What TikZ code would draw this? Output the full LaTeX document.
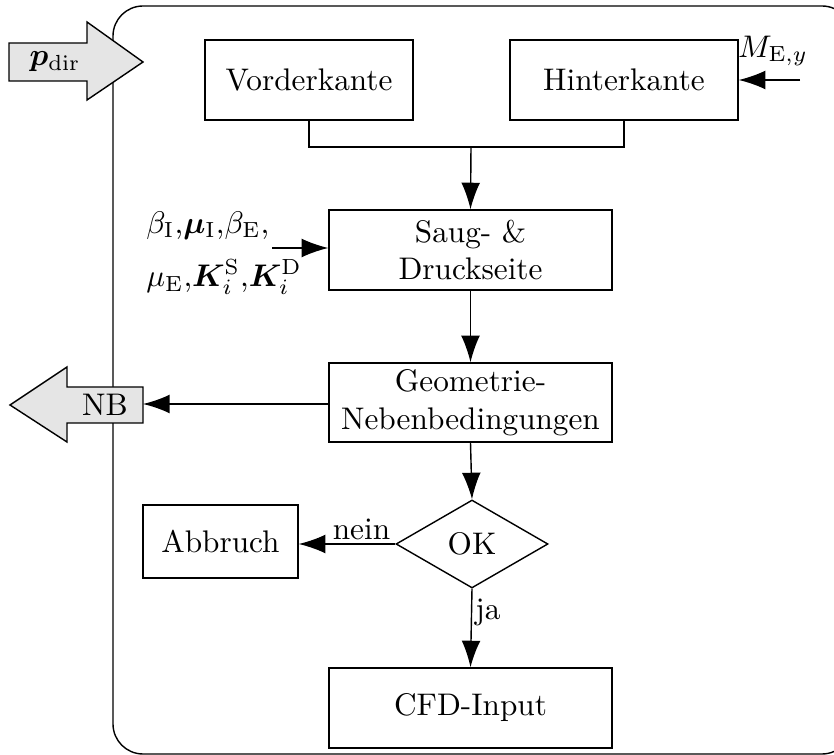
\documentclass[tikz,border=0pt]{standalone}
\usepackage{amsmath}
\usepackage{bm}
\usetikzlibrary{shapes.geometric,arrows.meta}
\def\u{0.32pt}
\tikzset{
  box/.style={draw,line width=0.45pt,inner sep=0pt,align=center},
  conn/.style={line width=0.45pt},
  arr/.style={line width=0.45pt,-{Latex[length=8.5pt,width=6pt]}},
  blockarrow/.style={draw,line width=0.45pt,fill=gray!20},
  lbl/.style={inner sep=1pt}
}
\begin{document}
\begin{tikzpicture}[x=0.32pt,y=-0.32pt]
\useasboundingbox (0,0) rectangle (834,755);
\clip (0,0) rectangle (834,755);
% frame
\draw[line width=0.45pt,rounded corners=30*\u] (113,6) rectangle (852,754);
% block arrows
\draw[blockarrow] (9,43) -- (87,43) -- (87,22) -- (143,62) -- (87,100) -- (87,81) -- (9,81) -- cycle;
\node[lbl] (pdir) at (55,62) {$\bm{p}_\mathrm{dir}$};
\draw[blockarrow] (143,387) -- (67,387) -- (67,367) -- (10,405) -- (67,442) -- (67,423) -- (143,423) -- cycle;
\node[lbl] (nb) at (105,405) {NB};
\coordinate (nbR) at (143,404);
% boxes
\node[box,minimum width=208*\u,minimum height=80*\u] (vk) at (309,80) {Vorderkante};
\node[box,minimum width=228*\u,minimum height=80*\u] (hk) at (624,80) {Hinterkante};
\node[box,minimum width=283*\u,minimum height=80*\u] (sd) at (470.5,250) {Saug- \&\\Druckseite};
\node[box,minimum width=283*\u,minimum height=79*\u] (gn) at (470.5,402.5) {Geometrie-\\Nebenbedingungen};
\node[draw,line width=0.45pt,diamond,aspect=1.727,inner sep=0pt,minimum width=152*\u,minimum height=88*\u] (ok) at (472,544) {OK};
\node[box,minimum width=155*\u,minimum height=73*\u] (ab) at (220.5,541.5) {Abbruch};
\node[box,minimum width=283*\u,minimum height=80*\u] (cfd) at (470.5,708) {CFD-Input};
% inputs
\node[lbl,align=left] (inp) at (224,253) {$\beta_\mathrm{I}$,$\bm{\mu}_\mathrm{I}$,$\beta_\mathrm{E}$,\\[5pt]$\mu_\mathrm{E}$,$\bm{K}_i^\mathrm{S}$,$\bm{K}_i^\mathrm{D}$};
\coordinate (inpR) at (272,248);
\coordinate (mR) at (800,80);
\node[lbl] (mlbl) at (773,51) {$M_{\mathrm{E},y}$};
\coordinate (join) at (471,147);
% connectors
\draw[conn] (vk.south) |- (join) -| (hk.south);
\draw[arr] (join) -- (sd.north);
\draw[arr] (inpR) -- (inpR -| sd.west);
\draw[arr] (mR) -- (mR -| hk.east);
\draw[arr] (sd.south) -- (gn.north);
\draw[arr] (gn.west |- nbR) -- (nbR);
\draw[arr] (gn.south) -- (ok.north);
\draw[arr] (ok.west) -- node[above,lbl,pos=0.35] (nein) {nein} (ok.west -| ab.east);
\draw[arr] (ok.south) -- node[right,lbl,pos=0.3] (ja) {ja} (cfd.north);
\end{tikzpicture}
\end{document}
